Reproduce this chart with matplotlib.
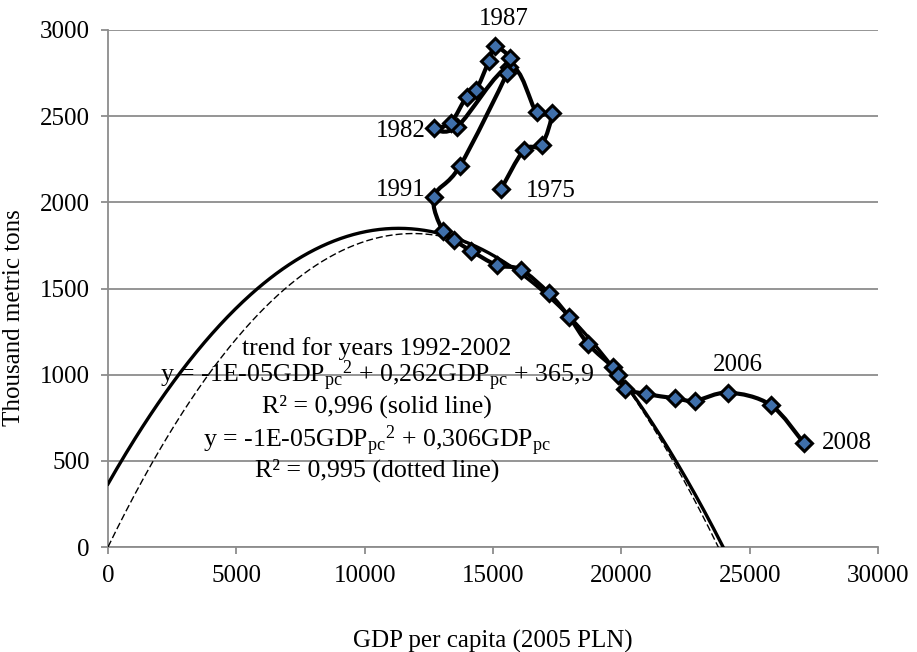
import numpy as np
import matplotlib
matplotlib.use("Agg")
import matplotlib.pyplot as plt
from matplotlib.path import Path
from matplotlib.patches import PathPatch

plt.rcParams['font.family'] = ['Liberation Serif', 'DejaVu Serif']
plt.rcParams['mathtext.fontset'] = 'custom'
plt.rcParams['mathtext.rm'] = 'Liberation Serif'
plt.rcParams['mathtext.it'] = 'Liberation Serif:italic'

# ---- data ----
years = list(range(1975, 2009))
gdp_pc = [15312, 16208, 16895, 17286, 16701, 15636, 13610, 12701, 13351, 13974,
          14338, 14844, 15078, 15662, 15558, 13714, 12701, 13039, 13481, 14143,
          15143, 16078, 17170, 17975, 18715, 19690, 19885, 20143, 20961, 22091,
          22870, 24169, 25818, 27116]
tons = [2076, 2304, 2333, 2521, 2522, 2787, 2440, 2430, 2462, 2614,
        2650, 2822, 2905, 2836, 2752, 2211, 2033, 1835, 1781, 1719,
        1636, 1610, 1474, 1333, 1176, 1042, 1000, 918, 888, 863,
        849, 896, 824, 602]

# quadratic trend coefficients (a, b, c)
trend_solid = (-1.157e-05, 0.262, 365.9)
trend_dotted = (-1.287e-05, 0.306, 0.0)

labelled_years = [1975, 1982, 1987, 1991, 2006, 2008]

x_ticks = [0, 5000, 10000, 15000, 20000, 25000, 30000]
y_ticks = [0, 500, 1000, 1500, 2000, 2500, 3000]

annotation_lines = [
    "trend for years 1992-2002",
    r"y = -1E-05GDP$_{\mathrm{pc}}{}^{2}$ + 0,262GDP$_{\mathrm{pc}}$ + 365,9",
    "R\u00b2 = 0,996 (solid line)",
    r"y = -1E-05GDP$_{\mathrm{pc}}{}^{2}$ + 0,306GDP$_{\mathrm{pc}}$",
    "R\u00b2 = 0,995 (dotted line)",
]

# ---- figure ----
W, H = 917, 652
fig = plt.figure(figsize=(W / 100, H / 100), dpi=100)
L, R, T, B = 108, 878, 30, 547
ax = fig.add_axes([L / W, 1 - B / H, (R - L) / W, (B - T) / H])

ax.set_xlim(0, 30000)
ax.set_ylim(0, 3000)
ax.set_xticks(x_ticks)
ax.set_yticks(y_ticks)
grid_c = '#8c8c8c'
ax.yaxis.grid(True, color=grid_c, lw=1.3)
ax.set_axisbelow(True)
for s in ['top', 'right']:
    ax.spines[s].set_visible(False)
for s in ['left', 'bottom']:
    ax.spines[s].set_color(grid_c)
    ax.spines[s].set_linewidth(1.3)
ax.tick_params(axis='both', direction='out', length=5, width=1.3, color=grid_c,
               labelsize=18, pad=8)

# trend lines
xs = np.linspace(0, 30000, 600)
a, b, c = trend_solid
ax.plot(xs, a * xs ** 2 + b * xs + c, color='black', lw=2.4, zorder=3)
a, b, c = trend_dotted
ax.plot(xs, a * xs ** 2 + b * xs + c, color='black', lw=1.0, ls=(0, (5, 2.2)), zorder=3)

# smoothed data line (Catmull-Rom bezier, like Excel smoothed lines)
pts = np.column_stack([gdp_pc, tons]).astype(float)
n = len(pts)
verts = [pts[0]]
codes = [Path.MOVETO]
for i in range(n - 1):
    p0 = pts[i - 1] if i > 0 else pts[i]
    p1 = pts[i]
    p2 = pts[i + 1]
    p3 = pts[i + 2] if i + 2 < n else pts[i + 1]
    c1 = p1 + (p2 - p0) / 6.0
    c2 = p2 - (p3 - p1) / 6.0
    verts += [c1, c2, p2]
    codes += [Path.CURVE4] * 3
ax.add_patch(PathPatch(Path(verts, codes), facecolor='none', edgecolor='black',
                       lw=3.0, zorder=4, capstyle='round', joinstyle='round'))
ax.plot(gdp_pc, tons, ls='none', marker='D', ms=8, mfc='#3F6FAA', mec='black',
        mew=2.2, zorder=5)

# data labels (offsets in points)
offsets = {
    1975: (18, -1, 'left', 'center'),
    1982: (-6, -2, 'right', 'center'),
    1987: (6, 20, 'center', 'center'),
    1991: (-6, 5, 'right', 'center'),
    2006: (7, 20, 'center', 'center'),
    2008: (13, 0, 'left', 'center'),
}
for yr in labelled_years:
    i = years.index(yr)
    dx, dy, ha, va = offsets[yr]
    ax.annotate(str(yr), (gdp_pc[i], tons[i]), xytext=(dx, dy),
                textcoords='offset points', ha=ha, va=va, fontsize=18,
                annotation_clip=False, zorder=6)

# trend annotation
line_y_px = [349, 376, 406, 441, 470]
for txt, py in zip(annotation_lines, line_y_px):
    ax.text((377 - L) / (R - L), (B - py) / (B - T), txt, transform=ax.transAxes,
            ha='center', va='center', fontsize=18.6, zorder=6)

ax.set_xlabel('GDP per capita (2005 PLN)', fontsize=18)
ax.xaxis.set_label_coords(0.5, (B - 630) / (B - T))
ax.set_ylabel('Thousand metric tons', fontsize=18)
ax.yaxis.set_label_coords((25 - L) / (R - L), (B - 318) / (B - T))

fig.savefig('out.png', dpi=100)
